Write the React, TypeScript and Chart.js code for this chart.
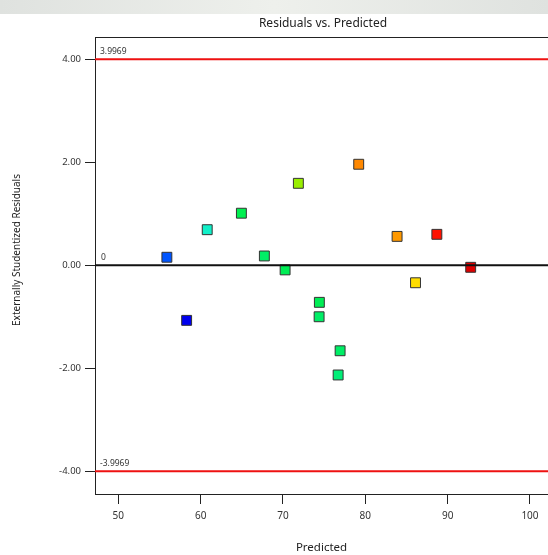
import React, { useEffect, useRef } from "react";
import { Chart, registerables } from "chart.js";

Chart.register(...registerables);

const predicted = [55.9, 58.3, 60.8, 64.95, 67.74, 71.87, 70.26, 74.42, 74.39, 76.94, 76.7, 79.2, 83.86, 88.69, 92.8, 86.1];
const residuals = [0.155, -1.07, 0.69, 1.01, 0.18, 1.59, -0.09, -0.72, -1.0, -1.66, -2.13, 1.96, 0.56, 0.6, -0.04, -0.34];
const pointColors = ["#0055ff", "#0000ee", "#10f0c8", "#00f050", "#00ee66", "#99ee00", "#00ee55", "#00ee55", "#00ee66", "#00ee66", "#00ee77", "#ff8800", "#ff9900", "#ff1100", "#dd0000", "#ffdd00"];
const xTicks = [50, 60, 70, 80, 90, 100];
const yTicks = [-4, -2, 0, 2, 4];
const limitValue = 3.9969;
const xRange = [47.17, 102.19];
const yRange = [-4.44, 4.43];
const titleText = "Residuals vs. Predicted";
const xTitle = "Predicted";
const yTitle = "Externally Studentized Residuals";

const FONT = '"Noto Sans", "Open Sans", sans-serif';

export default function App() {
  const ref = useRef<HTMLCanvasElement | null>(null);
  useEffect(() => {
    document.body.style.margin = "0";
    const canvas = ref.current!;
    const textPlugin = {
      id: "texts",
      beforeDraw(chart: any) {
        const ctx = chart.ctx;
        ctx.save();
        const g = ctx.createLinearGradient(0, 0, 548, 0);
        g.addColorStop(0, "#dfe2df");
        g.addColorStop(0.5, "#eef0ec");
        g.addColorStop(1, "#dfe2df");
        ctx.fillStyle = g;
        ctx.fillRect(0, 0, 548, 14);
        ctx.restore();
      },
      afterDraw(chart: any) {
        const ctx = chart.ctx;
        const ys = chart.scales.y;
        const area = chart.chartArea;
        ctx.save();
        ctx.strokeStyle = "#222";
        ctx.lineWidth = 1;
        ctx.beginPath();
        ctx.moveTo(area.left, area.top + 0.5);
        ctx.lineTo(area.right, area.top + 0.5);
        ctx.stroke();
        ctx.fillStyle = "#222";
        ctx.font = `12px ${FONT}`;
        ctx.textAlign = "center";
        ctx.textBaseline = "middle";
        ctx.fillText(titleText, 323, 24);
        ctx.save();
        ctx.translate(17, 250);
        ctx.rotate(-Math.PI / 2);
        ctx.font = `10px ${FONT}`;
        ctx.fillText(yTitle, 0, 0);
        ctx.restore();
        ctx.font = `8.5px ${FONT}`;
        ctx.textAlign = "left";
        ctx.fillStyle = "#333";
        const lx = area.left + 5;
        ctx.fillText(limitValue.toFixed(4), lx, ys.getPixelForValue(limitValue) - 8);
        ctx.fillText("0", lx + 1, ys.getPixelForValue(0) - 8);
        ctx.fillText((-limitValue).toFixed(4), lx, ys.getPixelForValue(-limitValue) - 8);
        ctx.restore();
      },
    };
    const chart = new Chart(canvas, {
      type: "scatter",
      data: {
        datasets: [
          {
            type: "line",
            data: [{ x: xRange[0], y: limitValue }, { x: xRange[1], y: limitValue }],
            borderColor: "#ee1111",
            borderWidth: 2,
            pointRadius: 0,
            order: 0,
          },
          {
            type: "line",
            data: [{ x: xRange[0], y: -limitValue }, { x: xRange[1], y: -limitValue }],
            borderColor: "#ee1111",
            borderWidth: 2,
            pointRadius: 0,
            order: 0,
          },
          {
            type: "line",
            data: [{ x: xRange[0], y: 0 }, { x: xRange[1], y: 0 }],
            borderColor: "#111",
            borderWidth: 2,
            pointRadius: 0,
            order: 0,
          },
          {
            data: predicted.map((p, i) => ({ x: p, y: residuals[i] })),
            backgroundColor: pointColors,
            borderColor: "#333",
            borderWidth: 1,
            pointStyle: "rect",
            pointRadius: 7,
            order: 1,
          },
        ],
      },
      options: {
        animation: false,
        responsive: false,
        layout: { autoPadding: false, padding: { top: 37, left: 0, right: 0, bottom: 0 } },
        plugins: { legend: { display: false }, tooltip: { enabled: false }, title: { display: false } },
        scales: {
          x: {
            type: "linear",
            min: xRange[0],
            max: xRange[1],
            afterBuildTicks: (s: any) => { s.ticks = xTicks.map((v) => ({ value: v })); },
            afterFit: (s: any) => { s.height = 61; },
            grid: { drawOnChartArea: false, drawTicks: true, tickLength: 10, color: "#222", lineWidth: 1 },
            border: { display: true, color: "#222", width: 1 },
            ticks: { padding: 6, color: "#333", font: { family: FONT, size: 10 }, maxRotation: 0, autoSkip: false, callback: (v: any) => String(v) },
            title: { display: true, text: xTitle, color: "#222", font: { family: FONT, size: 11.5 }, padding: { top: 0, bottom: 0 } },
          },
          y: {
            type: "linear",
            min: yRange[0],
            max: yRange[1],
            afterBuildTicks: (s: any) => { s.ticks = yTicks.map((v) => ({ value: v })); },
            afterFit: (s: any) => { s.width = 95; },
            grid: { drawOnChartArea: false, drawTicks: true, tickLength: 10, color: "#222", lineWidth: 1 },
            border: { display: true, color: "#222", width: 1 },
            ticks: { padding: 4, color: "#333", font: { family: FONT, size: 9.5 }, autoSkip: false, callback: (v: any) => Number(v).toFixed(2) },
          },
        },
      },
      plugins: [textPlugin],
    });
    return () => chart.destroy();
  }, []);
  return <canvas ref={ref} width={548} height={555} style={{ display: "block" }} />;
}
